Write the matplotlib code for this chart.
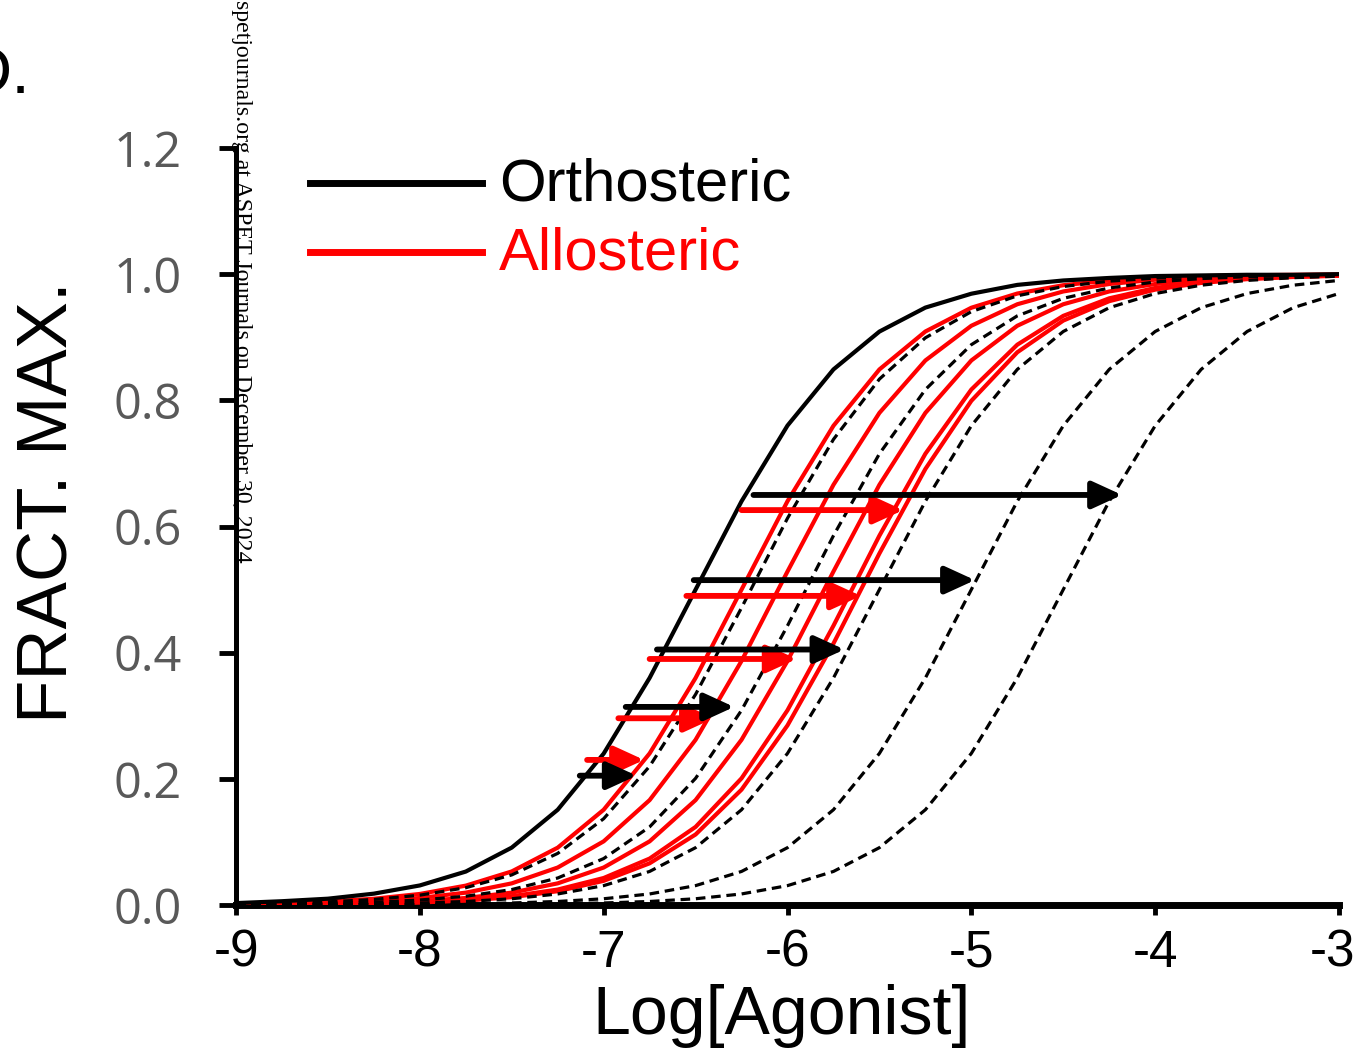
"""
Orthosteric vs allosteric antagonism: dose-response curve shifts
"""

import numpy as np
import matplotlib.pyplot as plt
from matplotlib.transforms import ScaledTranslation

plt.rcParams['font.family'] = ['Liberation Sans', 'DejaVu Sans']

# x grid of the curves (log molar agonist)
log_agonist = np.arange(-9.0, -2.99, 0.25)

# control curve (no antagonist)
control = [0.003, 0.006, 0.010, 0.018, 0.031, 0.053, 0.091, 0.151, 0.240, 0.360,
           0.500, 0.640, 0.760, 0.849, 0.909, 0.947, 0.969, 0.983, 0.990, 0.994,
           0.997, 0.998, 0.999, 0.999, 1.000]

# orthosteric antagonist curves (black dashed)
ortho_1 = [0.0016, 0.0028, 0.0050, 0.0088, 0.0156, 0.0274, 0.0477, 0.0818, 0.1368, 0.2199,
           0.3339, 0.4712, 0.6131, 0.7381, 0.8337, 0.8991, 0.9406, 0.9657, 0.9804, 0.9889,
           0.9937, 0.9965, 0.9980, 0.9989, 0.9994]
ortho_2 = [0.0008, 0.0014, 0.0025, 0.0044, 0.0079, 0.0139, 0.0245, 0.0428, 0.0736, 0.1238,
           0.2008, 0.3087, 0.4427, 0.5855, 0.7153, 0.8171, 0.8882, 0.9339, 0.9617, 0.9781,
           0.9876, 0.9930, 0.9960, 0.9978, 0.9987]
ortho_3 = [0.0003, 0.0006, 0.0010, 0.0018, 0.0032, 0.0056, 0.0099, 0.0175, 0.0307, 0.0532,
           0.0909, 0.1510, 0.2403, 0.3599, 0.5000, 0.6401, 0.7597, 0.8490, 0.9091, 0.9468,
           0.9693, 0.9825, 0.9901, 0.9944, 0.9968]
ortho_4 = [0.0001, 0.0002, 0.0003, 0.0006, 0.0010, 0.0018, 0.0032, 0.0056, 0.0099, 0.0175,
           0.0307, 0.0532, 0.0909, 0.1510, 0.2403, 0.3599, 0.5000, 0.6401, 0.7597, 0.8490,
           0.9091, 0.9468, 0.9693, 0.9825, 0.9901]
ortho_5 = [0.0000, 0.0001, 0.0001, 0.0002, 0.0003, 0.0006, 0.0010, 0.0018, 0.0032, 0.0056,
           0.0099, 0.0175, 0.0307, 0.0532, 0.0909, 0.1510, 0.2403, 0.3599, 0.5000, 0.6401,
           0.7597, 0.8490, 0.9091, 0.9468, 0.9693]

# allosteric modulator curves (red)
allo_1 = [0.0018, 0.0032, 0.0056, 0.0099, 0.0175, 0.0307, 0.0532, 0.0909, 0.1510, 0.2403,
          0.3599, 0.5000, 0.6401, 0.7597, 0.8490, 0.9091, 0.9468, 0.9693, 0.9825, 0.9901,
          0.9944, 0.9968, 0.9982, 0.9990, 0.9994]
allo_2 = [0.0011, 0.0020, 0.0035, 0.0063, 0.0111, 0.0196, 0.0343, 0.0594, 0.1009, 0.1663,
          0.2619, 0.3869, 0.5287, 0.6661, 0.7801, 0.8632, 0.9182, 0.9523, 0.9726, 0.9844,
          0.9912, 0.9950, 0.9972, 0.9984, 0.9991]
allo_3 = [0.0006, 0.0011, 0.0020, 0.0035, 0.0063, 0.0111, 0.0196, 0.0343, 0.0594, 0.1009,
          0.1663, 0.2619, 0.3869, 0.5287, 0.6661, 0.7801, 0.8632, 0.9182, 0.9523, 0.9726,
          0.9844, 0.9912, 0.9950, 0.9972, 0.9984]
allo_4 = [0.0004, 0.0008, 0.0014, 0.0025, 0.0044, 0.0079, 0.0139, 0.0245, 0.0428, 0.0736,
          0.1238, 0.2008, 0.3087, 0.4427, 0.5855, 0.7153, 0.8171, 0.8882, 0.9339, 0.9617,
          0.9781, 0.9876, 0.9930, 0.9960, 0.9978]
allo_5 = [0.0004, 0.0007, 0.0013, 0.0022, 0.0040, 0.0070, 0.0124, 0.0219, 0.0383, 0.0661,
          0.1118, 0.1829, 0.2847, 0.4145, 0.5573, 0.6912, 0.7992, 0.8762, 0.9264, 0.9572,
          0.9755, 0.9861, 0.9921, 0.9955, 0.9975]

# shift arrows: response level, start and end log[agonist]
ortho_arrow_y = [0.205, 0.314, 0.405, 0.515, 0.650]
ortho_arrow_x0 = [-7.13, -6.88, -6.71, -6.51, -6.185]
ortho_arrow_x1 = [-6.82, -6.29, -5.69, -4.98, -4.18]

allo_arrow_y = [0.230, 0.296, 0.390, 0.490, 0.626]
allo_arrow_x0 = [-7.09, -6.92, -6.75, -6.55, -6.25]
allo_arrow_x1 = [-6.78, -6.40, -5.95, -5.60, -5.37]

x_ticks = [-9, -8, -7, -6, -5, -4, -3]
y_ticks = [0.0, 0.2, 0.4, 0.6, 0.8, 1.0, 1.2]

RED = '#ff0000'
W, H = 1360, 1055

fig = plt.figure(figsize=(W / 100, H / 100), dpi=100)
ax = fig.add_axes([236 / W, 1 - 905 / H, (1339 - 236) / W, (905 - 148) / H])

for y in [allo_1, allo_2, allo_3, allo_4, allo_5]:
    ax.plot(log_agonist, y, color=RED, lw=3.0, zorder=2)
for y in [ortho_1, ortho_2, ortho_3, ortho_4, ortho_5]:
    ax.plot(log_agonist, y, color='black', lw=2.3, dashes=(3, 1.8), zorder=3)
ax.plot(log_agonist, control, color='black', lw=3.0, zorder=4)

for y, x0, x1 in zip(allo_arrow_y, allo_arrow_x0, allo_arrow_x1):
    ax.annotate('', xy=(x1, y), xytext=(x0, y), zorder=5,
                arrowprops=dict(arrowstyle='-|>,head_length=1.2,head_width=0.55',
                                lw=4.2, color=RED, mutation_scale=15,
                                shrinkA=0, shrinkB=0))
for y, x0, x1 in zip(ortho_arrow_y, ortho_arrow_x0, ortho_arrow_x1):
    ax.annotate('', xy=(x1, y), xytext=(x0, y), zorder=6,
                arrowprops=dict(arrowstyle='-|>,head_length=1.2,head_width=0.55',
                                lw=4.2, color='black', mutation_scale=15,
                                shrinkA=0, shrinkB=0))

ax.set_xlim(-9, -3)
ax.set_ylim(0, 1.2)
ax.spines['top'].set_visible(False)
ax.spines['right'].set_visible(False)
ax.spines['left'].set_linewidth(3.6)
ax.spines['bottom'].set_linewidth(5)
ax.spines['bottom'].set_zorder(1)

ax.set_xticks(x_ticks)
ax.set_xticklabels([str(t) for t in x_ticks], fontsize=37)
ax.set_yticks(y_ticks)
ax.set_yticklabels([f'{t:.1f}' for t in y_ticks], fontsize=35,
                   family=['Open Sans', 'DejaVu Sans'], color='#595959')
ax.tick_params(axis='x', direction='out', length=7, width=3.5, pad=10)
ax.tick_params(axis='y', direction='out', length=12, width=3.5, pad=27)

# the last x label sits slightly left of its tick, as in the figure
last = ax.get_xticklabels()[-1]
last.set_transform(last.get_transform() + ScaledTranslation(-7 / 100, 0, fig.dpi_scale_trans))

fig.text(50 / W, 1 - 502 / H, 'FRACT. MAX.', rotation=90, fontsize=51,
         ha='center', va='center')
fig.text(782 / W, 1 - 1016 / H, 'Log[Agonist]', fontsize=49,
         ha='center', va='center')

# legend
fig.add_artist(plt.Line2D([310 / W, 482 / W], [1 - 183 / H, 1 - 183 / H],
                          color='black', lw=5))
fig.add_artist(plt.Line2D([310 / W, 482 / W], [1 - 252 / H, 1 - 252 / H],
                          color=RED, lw=5))
fig.text(499 / W, 1 - 185 / H, 'Orthosteric', fontsize=43, ha='left', va='center')
fig.text(499 / W, 1 - 254 / H, 'Allosteric', fontsize=43, ha='left', va='center',
         color=RED)

# panel letter (cropped at the edge) and download watermark
fig.text(30 / W, 1 - 93 / H, 'D.', fontsize=48, ha='right', va='baseline')
fig.text(241 / W, 1.0, 'spetjournals.org at ASPET Journals on December 30, 2024',
         rotation=270, fontsize=17.2, family=['Liberation Serif', 'DejaVu Serif'],
         ha='center', va='top', zorder=10)

plt.savefig('out.png', dpi=100)
